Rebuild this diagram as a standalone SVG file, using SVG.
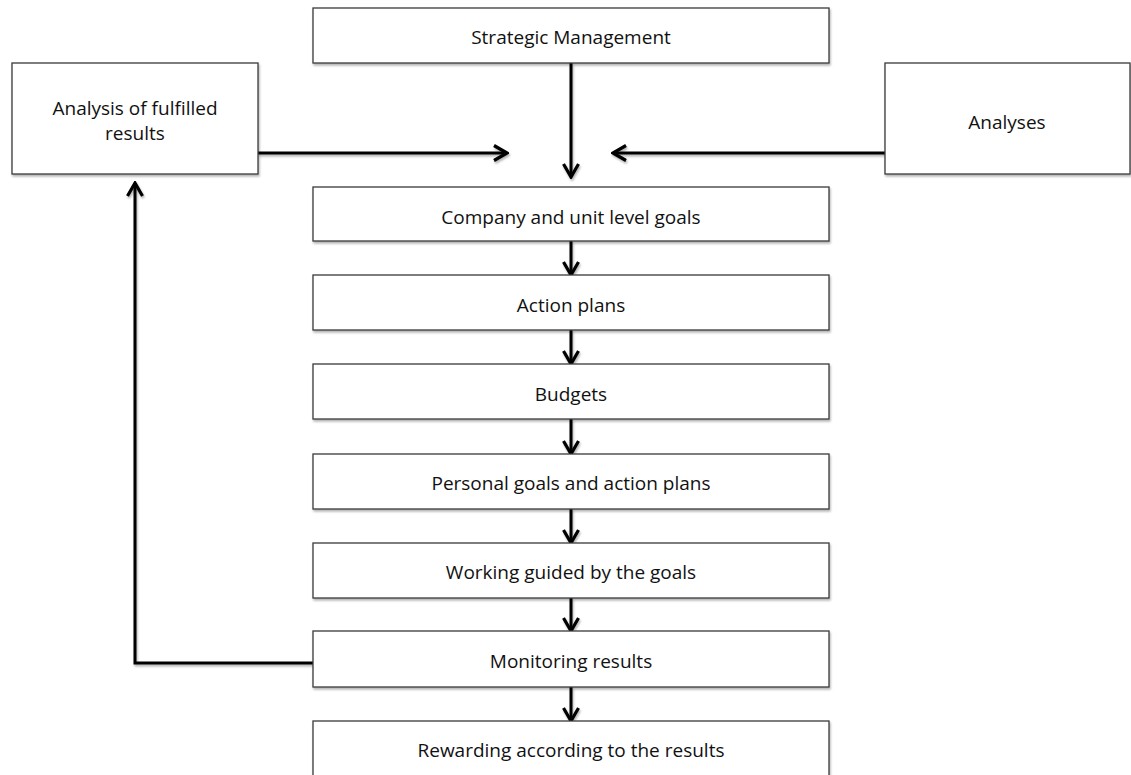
<svg xmlns="http://www.w3.org/2000/svg" width="1131" height="775" viewBox="0 0 1131 775">
<style>
.box{fill:#fff;stroke:#3a3a3a;stroke-width:1.3;filter:url(#sh)}
.lbl{font-family:"Open Sans",Lato,"Liberation Sans",sans-serif;font-size:19px;fill:#111;text-anchor:middle;dominant-baseline:central}
.con{fill:none;stroke:#000;stroke-width:3;filter:url(#shl)}
</style>
<defs>
<filter id="sh" x="-10%" y="-10%" width="120%" height="130%">
<feDropShadow dx="1" dy="2" stdDeviation="1.2" flood-color="#000" flood-opacity="0.3"/>
</filter>
<filter id="shl" filterUnits="userSpaceOnUse" x="0" y="0" width="1131" height="775">
<feDropShadow dx="1" dy="2" stdDeviation="1.2" flood-color="#000" flood-opacity="0.3"/>
</filter>
<marker id="ah" viewBox="0 0 18 18" refX="16" refY="9" markerWidth="18" markerHeight="18" markerUnits="userSpaceOnUse" orient="auto">
<path d="M3,1.5 L16,9 L3,16.5" fill="none" stroke="#000" stroke-width="3.2" stroke-linejoin="miter"/>
</marker>
</defs>
<g id="connectors">
<path class="con" d="M571,63 V177" marker-end="url(#ah)"/>
<path class="con" d="M258,153 H507" marker-end="url(#ah)"/>
<path class="con" d="M885,153 H613" marker-end="url(#ah)"/>
<path class="con" d="M571,241 V275" marker-end="url(#ah)"/>
<path class="con" d="M571,330 V364" marker-end="url(#ah)"/>
<path class="con" d="M571,419 V454" marker-end="url(#ah)"/>
<path class="con" d="M571,509 V543" marker-end="url(#ah)"/>
<path class="con" d="M571,598 V631" marker-end="url(#ah)"/>
<path class="con" d="M571,687 V721" marker-end="url(#ah)"/>
<path class="con" d="M314,663 H135 V183" marker-end="url(#ah)"/>
</g>
<g id="n-strategic"><rect class="box" x="313" y="8" width="516" height="55"/><text class="lbl" x="571" y="37">Strategic Management</text></g>
<g id="n-analysis-fulfilled"><rect class="box" x="12" y="63" width="246" height="111"/><text class="lbl" x="135" y="108">Analysis of fulfilled</text><text class="lbl" x="135" y="133">results</text></g>
<g id="n-analyses"><rect class="box" x="885" y="63" width="245" height="111"/><text class="lbl" x="1007" y="122">Analyses</text></g>
<g id="n-company"><rect class="box" x="313" y="187" width="516" height="54"/><text class="lbl" x="571" y="217">Company and unit level goals</text></g>
<g id="n-action"><rect class="box" x="313" y="275" width="516" height="55"/><text class="lbl" x="571" y="305">Action plans</text></g>
<g id="n-budgets"><rect class="box" x="313" y="364" width="516" height="55"/><text class="lbl" x="571" y="394">Budgets</text></g>
<g id="n-personal"><rect class="box" x="313" y="454" width="516" height="55"/><text class="lbl" x="571" y="483">Personal goals and action plans</text></g>
<g id="n-working"><rect class="box" x="313" y="543" width="516" height="55"/><text class="lbl" x="571" y="572">Working guided by the goals</text></g>
<g id="n-monitoring"><rect class="box" x="313" y="631" width="516" height="56"/><text class="lbl" x="571" y="661">Monitoring results</text></g>
<g id="n-rewarding"><rect class="box" x="313" y="721" width="516" height="60"/><text class="lbl" x="571" y="750">Rewarding according to the results</text></g>
</svg>
